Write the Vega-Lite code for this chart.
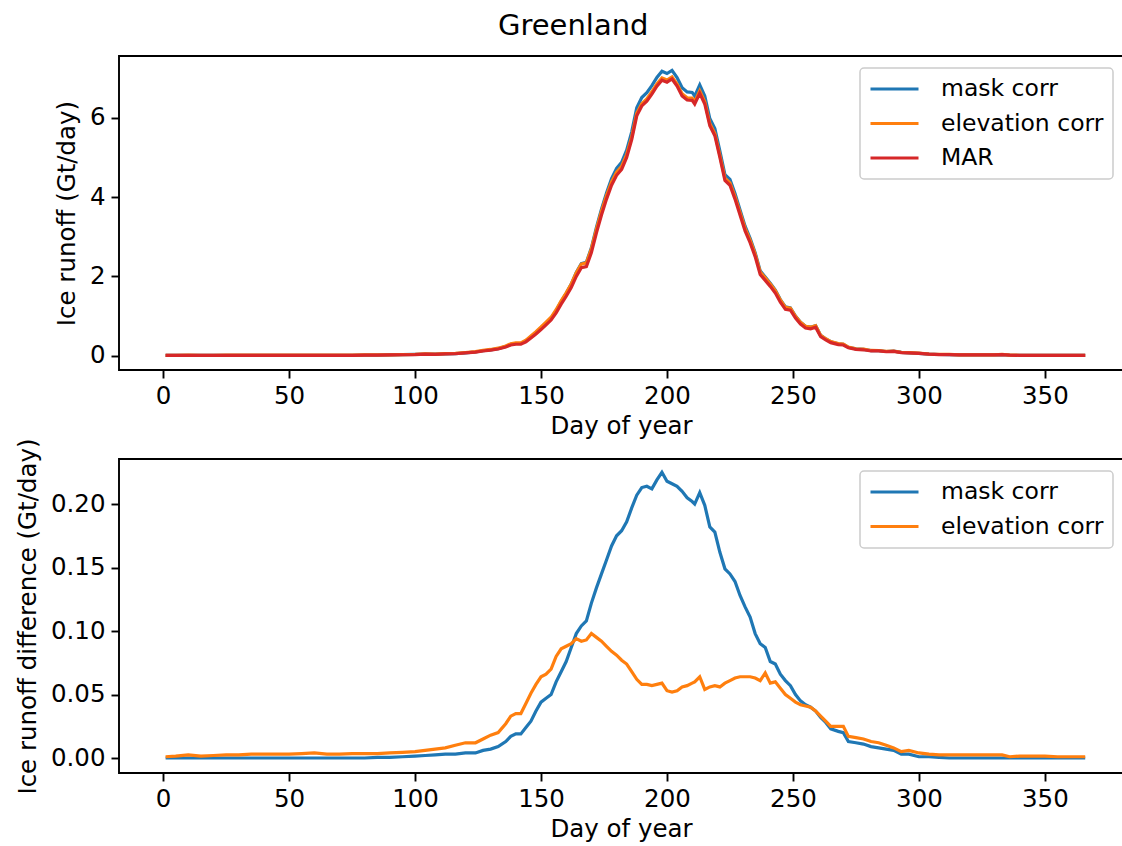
{
  "$schema": "https://vega.github.io/schema/vega-lite/v6.json",
  "padding": {"left": 14, "top": 12, "right": 0, "bottom": 0},
  "title": {"text": "Greenland", "fontSize": 29, "font": "DejaVu Sans", "fontWeight": "normal", "color": "#000", "anchor": "middle", "offset": 14, "dx": 4},
  "data": {"values": [
    {"d":1,"mar":0.01,"mask":0.01,"elev":0.011,"dm":0,"de":0.001},
    {"d":5,"mar":0.01,"mask":0.01,"elev":0.012,"dm":0,"de":0.0015},
    {"d":10,"mar":0.01,"mask":0.01,"elev":0.013,"dm":0,"de":0.0025},
    {"d":15,"mar":0.01,"mask":0.01,"elev":0.012,"dm":0,"de":0.0015},
    {"d":20,"mar":0.01,"mask":0.01,"elev":0.012,"dm":0,"de":0.002},
    {"d":25,"mar":0.01,"mask":0.01,"elev":0.013,"dm":0,"de":0.0025},
    {"d":30,"mar":0.01,"mask":0.01,"elev":0.013,"dm":0,"de":0.0025},
    {"d":35,"mar":0.01,"mask":0.01,"elev":0.013,"dm":0,"de":0.003},
    {"d":40,"mar":0.01,"mask":0.01,"elev":0.013,"dm":0,"de":0.003},
    {"d":45,"mar":0.01,"mask":0.01,"elev":0.013,"dm":0,"de":0.003},
    {"d":50,"mar":0.01,"mask":0.01,"elev":0.013,"dm":0,"de":0.003},
    {"d":55,"mar":0.01,"mask":0.01,"elev":0.014,"dm":0,"de":0.0035},
    {"d":60,"mar":0.01,"mask":0.01,"elev":0.014,"dm":0,"de":0.004},
    {"d":65,"mar":0.01,"mask":0.01,"elev":0.013,"dm":0,"de":0.003},
    {"d":70,"mar":0.01,"mask":0.01,"elev":0.013,"dm":0,"de":0.003},
    {"d":75,"mar":0.01,"mask":0.01,"elev":0.014,"dm":0,"de":0.0035},
    {"d":80,"mar":0.015,"mask":0.015,"elev":0.019,"dm":0,"de":0.0035},
    {"d":85,"mar":0.015,"mask":0.016,"elev":0.019,"dm":0.0005,"de":0.0035},
    {"d":90,"mar":0.02,"mask":0.021,"elev":0.024,"dm":0.0005,"de":0.004},
    {"d":95,"mar":0.025,"mask":0.026,"elev":0.03,"dm":0.001,"de":0.0045},
    {"d":100,"mar":0.03,"mask":0.032,"elev":0.035,"dm":0.0015,"de":0.005},
    {"d":104,"mar":0.04,"mask":0.042,"elev":0.046,"dm":0.002,"de":0.006},
    {"d":108,"mar":0.035,"mask":0.038,"elev":0.042,"dm":0.0025,"de":0.007},
    {"d":112,"mar":0.045,"mask":0.048,"elev":0.053,"dm":0.003,"de":0.008},
    {"d":116,"mar":0.05,"mask":0.053,"elev":0.06,"dm":0.003,"de":0.01},
    {"d":120,"mar":0.07,"mask":0.074,"elev":0.082,"dm":0.004,"de":0.012},
    {"d":124,"mar":0.09,"mask":0.094,"elev":0.102,"dm":0.004,"de":0.012},
    {"d":127,"mar":0.12,"mask":0.126,"elev":0.135,"dm":0.006,"de":0.015},
    {"d":130,"mar":0.14,"mask":0.147,"elev":0.158,"dm":0.007,"de":0.018},
    {"d":133,"mar":0.17,"mask":0.179,"elev":0.19,"dm":0.009,"de":0.02},
    {"d":136,"mar":0.22,"mask":0.233,"elev":0.247,"dm":0.013,"de":0.027},
    {"d":138,"mar":0.27,"mask":0.287,"elev":0.303,"dm":0.017,"de":0.033},
    {"d":140,"mar":0.29,"mask":0.309,"elev":0.325,"dm":0.019,"de":0.035},
    {"d":142,"mar":0.29,"mask":0.309,"elev":0.325,"dm":0.019,"de":0.035},
    {"d":144,"mar":0.35,"mask":0.374,"elev":0.393,"dm":0.024,"de":0.043},
    {"d":146,"mar":0.45,"mask":0.479,"elev":0.501,"dm":0.029,"de":0.051},
    {"d":148,"mar":0.55,"mask":0.587,"elev":0.608,"dm":0.037,"de":0.058},
    {"d":150,"mar":0.66,"mask":0.704,"elev":0.724,"dm":0.044,"de":0.064},
    {"d":152,"mar":0.78,"mask":0.827,"elev":0.846,"dm":0.047,"de":0.066},
    {"d":154,"mar":0.9,"mask":0.95,"elev":0.97,"dm":0.05,"de":0.07},
    {"d":156,"mar":1.08,"mask":1.14,"elev":1.16,"dm":0.06,"de":0.08},
    {"d":158,"mar":1.3,"mask":1.368,"elev":1.386,"dm":0.068,"de":0.086},
    {"d":160,"mar":1.5,"mask":1.576,"elev":1.588,"dm":0.076,"de":0.088},
    {"d":162,"mar":1.72,"mask":1.807,"elev":1.81,"dm":0.087,"de":0.09},
    {"d":164,"mar":2.0,"mask":2.098,"elev":2.094,"dm":0.098,"de":0.094},
    {"d":166,"mar":2.22,"mask":2.324,"elev":2.312,"dm":0.104,"de":0.092},
    {"d":168,"mar":2.25,"mask":2.358,"elev":2.343,"dm":0.108,"de":0.093},
    {"d":170,"mar":2.6,"mask":2.722,"elev":2.698,"dm":0.122,"de":0.098},
    {"d":172,"mar":3.1,"mask":3.234,"elev":3.195,"dm":0.134,"de":0.095},
    {"d":174,"mar":3.55,"mask":3.695,"elev":3.642,"dm":0.145,"de":0.092},
    {"d":176,"mar":3.95,"mask":4.106,"elev":4.038,"dm":0.156,"de":0.088},
    {"d":178,"mar":4.3,"mask":4.467,"elev":4.384,"dm":0.167,"de":0.084},
    {"d":180,"mar":4.55,"mask":4.725,"elev":4.631,"dm":0.175,"de":0.081},
    {"d":182,"mar":4.7,"mask":4.879,"elev":4.777,"dm":0.179,"de":0.077},
    {"d":184,"mar":5.0,"mask":5.186,"elev":5.074,"dm":0.186,"de":0.074},
    {"d":186,"mar":5.45,"mask":5.647,"elev":5.518,"dm":0.197,"de":0.068},
    {"d":188,"mar":6.05,"mask":6.257,"elev":6.112,"dm":0.207,"de":0.062},
    {"d":190,"mar":6.3,"mask":6.513,"elev":6.358,"dm":0.213,"de":0.058},
    {"d":192,"mar":6.42,"mask":6.634,"elev":6.478,"dm":0.214,"de":0.058},
    {"d":194,"mar":6.6,"mask":6.812,"elev":6.657,"dm":0.212,"de":0.057},
    {"d":196,"mar":6.8,"mask":7.019,"elev":6.858,"dm":0.219,"de":0.058},
    {"d":198,"mar":6.95,"mask":7.175,"elev":7.009,"dm":0.225,"de":0.059},
    {"d":200,"mar":6.9,"mask":7.118,"elev":6.953,"dm":0.218,"de":0.053},
    {"d":202,"mar":6.98,"mask":7.196,"elev":7.032,"dm":0.216,"de":0.052},
    {"d":204,"mar":6.8,"mask":7.014,"elev":6.853,"dm":0.214,"de":0.053},
    {"d":206,"mar":6.55,"mask":6.76,"elev":6.606,"dm":0.21,"de":0.056},
    {"d":208,"mar":6.45,"mask":6.655,"elev":6.507,"dm":0.205,"de":0.057},
    {"d":210,"mar":6.44,"mask":6.642,"elev":6.499,"dm":0.202,"de":0.059},
    {"d":211,"mar":6.35,"mask":6.55,"elev":6.41,"dm":0.2,"de":0.06},
    {"d":213,"mar":6.62,"mask":6.829,"elev":6.684,"dm":0.209,"de":0.064},
    {"d":215,"mar":6.35,"mask":6.549,"elev":6.404,"dm":0.199,"de":0.054},
    {"d":217,"mar":5.8,"mask":5.982,"elev":5.856,"dm":0.182,"de":0.056},
    {"d":219,"mar":5.55,"mask":5.728,"elev":5.607,"dm":0.178,"de":0.057},
    {"d":221,"mar":5.0,"mask":5.162,"elev":5.056,"dm":0.162,"de":0.056},
    {"d":223,"mar":4.42,"mask":4.569,"elev":4.479,"dm":0.149,"de":0.059},
    {"d":225,"mar":4.3,"mask":4.445,"elev":4.361,"dm":0.145,"de":0.061},
    {"d":227,"mar":3.95,"mask":4.089,"elev":4.013,"dm":0.139,"de":0.063},
    {"d":229,"mar":3.55,"mask":3.678,"elev":3.614,"dm":0.128,"de":0.064},
    {"d":231,"mar":3.15,"mask":3.269,"elev":3.214,"dm":0.119,"de":0.064},
    {"d":233,"mar":2.85,"mask":2.961,"elev":2.914,"dm":0.111,"de":0.064},
    {"d":235,"mar":2.5,"mask":2.598,"elev":2.563,"dm":0.098,"de":0.063},
    {"d":237,"mar":2.05,"mask":2.14,"elev":2.111,"dm":0.09,"de":0.061},
    {"d":239,"mar":1.9,"mask":1.987,"elev":1.967,"dm":0.087,"de":0.067},
    {"d":241,"mar":1.75,"mask":1.826,"elev":1.809,"dm":0.076,"de":0.059},
    {"d":243,"mar":1.58,"mask":1.654,"elev":1.64,"dm":0.074,"de":0.06},
    {"d":245,"mar":1.35,"mask":1.416,"elev":1.405,"dm":0.066,"de":0.055},
    {"d":247,"mar":1.17,"mask":1.231,"elev":1.22,"dm":0.061,"de":0.05},
    {"d":249,"mar":1.15,"mask":1.207,"elev":1.197,"dm":0.057,"de":0.047},
    {"d":251,"mar":0.95,"mask":1.0,"elev":0.994,"dm":0.05,"de":0.044},
    {"d":253,"mar":0.8,"mask":0.845,"elev":0.842,"dm":0.045,"de":0.042},
    {"d":255,"mar":0.7,"mask":0.742,"elev":0.741,"dm":0.042,"de":0.041},
    {"d":257,"mar":0.68,"mask":0.72,"elev":0.72,"dm":0.04,"de":0.04},
    {"d":259,"mar":0.72,"mask":0.757,"elev":0.757,"dm":0.037,"de":0.037},
    {"d":261,"mar":0.48,"mask":0.512,"elev":0.513,"dm":0.032,"de":0.033},
    {"d":263,"mar":0.4,"mask":0.428,"elev":0.429,"dm":0.028,"de":0.029},
    {"d":265,"mar":0.33,"mask":0.353,"elev":0.355,"dm":0.023,"de":0.025},
    {"d":268,"mar":0.28,"mask":0.301,"elev":0.305,"dm":0.021,"de":0.025},
    {"d":270,"mar":0.27,"mask":0.29,"elev":0.295,"dm":0.02,"de":0.025},
    {"d":272,"mar":0.2,"mask":0.213,"elev":0.217,"dm":0.013,"de":0.017},
    {"d":275,"mar":0.16,"mask":0.172,"elev":0.176,"dm":0.012,"de":0.016},
    {"d":278,"mar":0.15,"mask":0.161,"elev":0.165,"dm":0.011,"de":0.015},
    {"d":281,"mar":0.12,"mask":0.129,"elev":0.133,"dm":0.009,"de":0.013},
    {"d":284,"mar":0.12,"mask":0.128,"elev":0.132,"dm":0.008,"de":0.012},
    {"d":287,"mar":0.1,"mask":0.107,"elev":0.11,"dm":0.007,"de":0.01},
    {"d":290,"mar":0.11,"mask":0.116,"elev":0.118,"dm":0.006,"de":0.008},
    {"d":293,"mar":0.08,"mask":0.083,"elev":0.085,"dm":0.003,"de":0.005},
    {"d":296,"mar":0.07,"mask":0.073,"elev":0.076,"dm":0.003,"de":0.006},
    {"d":300,"mar":0.06,"mask":0.061,"elev":0.064,"dm":0.001,"de":0.004},
    {"d":304,"mar":0.04,"mask":0.041,"elev":0.043,"dm":0.001,"de":0.003},
    {"d":308,"mar":0.03,"mask":0.031,"elev":0.033,"dm":0.0005,"de":0.0025},
    {"d":312,"mar":0.03,"mask":0.03,"elev":0.033,"dm":0,"de":0.0025},
    {"d":316,"mar":0.02,"mask":0.02,"elev":0.023,"dm":0,"de":0.0025},
    {"d":320,"mar":0.02,"mask":0.02,"elev":0.023,"dm":0,"de":0.0025},
    {"d":325,"mar":0.02,"mask":0.02,"elev":0.023,"dm":0,"de":0.0025},
    {"d":330,"mar":0.02,"mask":0.02,"elev":0.023,"dm":0,"de":0.0025},
    {"d":333,"mar":0.03,"mask":0.03,"elev":0.033,"dm":0,"de":0.0025},
    {"d":336,"mar":0.015,"mask":0.015,"elev":0.016,"dm":0,"de":0.001},
    {"d":340,"mar":0.01,"mask":0.01,"elev":0.012,"dm":0,"de":0.0015},
    {"d":345,"mar":0.01,"mask":0.01,"elev":0.012,"dm":0,"de":0.0015},
    {"d":350,"mar":0.01,"mask":0.01,"elev":0.012,"dm":0,"de":0.0015},
    {"d":355,"mar":0.01,"mask":0.01,"elev":0.011,"dm":0,"de":0.001},
    {"d":360,"mar":0.01,"mask":0.01,"elev":0.011,"dm":0,"de":0.001},
    {"d":366,"mar":0.01,"mask":0.01,"elev":0.011,"dm":0,"de":0.001}
  ]},
  "config": {
    "font": "DejaVu Sans",
    "view": {"stroke": "#000", "strokeWidth": 1.9},
    "axis": {"labelFont": "DejaVu Sans", "titleFont": "DejaVu Sans", "labelFontSize": 24.5, "titleFontSize": 24.5, "titleFontWeight": "normal", "labelColor": "#000", "titleColor": "#000", "tickColor": "#000", "tickWidth": 1.9, "tickSize": 8, "labelPadding": 6, "domain": false, "grid": false},
    "axisX": {"titlePadding": 7},
    "axisY": {"titlePadding": 10},
    "legend": {"orient": "none", "legendX": 741, "legendY": 12, "title": null, "symbolType": "stroke", "symbolSize": 2304, "symbolStrokeWidth": 3, "clipHeight": 24, "labelFont": "DejaVu Sans", "labelFontSize": 23.5, "labelLimit": 400, "labelColor": "#000", "labelOffset": 21, "rowPadding": 10.5, "padding": 9, "strokeColor": "#cccccc", "strokeWidth": 1.5, "fillColor": "rgba(255,255,255,0.8)", "cornerRadius": 4}
  },
  "bounds": "flush",
  "spacing": 89,
  "resolve": {"scale": {"color": "independent", "y": "independent"}, "legend": {"color": "independent"}},
  "vconcat": [
    {
      "width": 1004, "height": 314,
      "transform": [{"fold": ["mask", "elev", "mar"], "as": ["s", "v"]}],
      "mark": {"type": "line", "strokeWidth": 3.2},
      "encoding": {
        "x": {"field": "d", "type": "quantitative", "scale": {"domain": [-17.5, 381], "nice": false, "zero": false}, "axis": {"values": [0, 50, 100, 150, 200, 250, 300, 350], "title": "Day of year"}},
        "y": {"field": "v", "type": "quantitative", "scale": {"domain": [-0.36, 7.56], "nice": false, "zero": false}, "axis": {"values": [0, 2, 4, 6], "title": "Ice runoff (Gt/day)"}},
        "color": {"field": "s", "type": "nominal", "scale": {"domain": ["mask", "elev", "mar"], "range": ["#1f77b4", "#ff7f0e", "#d62728"]}, "legend": {"labelExpr": "datum.value == 'mask' ? 'mask corr' : datum.value == 'elev' ? 'elevation corr' : 'MAR'"}}
      }
    },
    {
      "width": 1004, "height": 314,
      "transform": [{"fold": ["dm", "de"], "as": ["s", "v"]}],
      "mark": {"type": "line", "strokeWidth": 3.2},
      "encoding": {
        "x": {"field": "d", "type": "quantitative", "scale": {"domain": [-17.5, 381], "nice": false, "zero": false}, "axis": {"values": [0, 50, 100, 150, 200, 250, 300, 350], "title": "Day of year"}},
        "y": {"field": "v", "type": "quantitative", "scale": {"domain": [-0.0118, 0.2355], "nice": false, "zero": false}, "axis": {"values": [0, 0.05, 0.1, 0.15, 0.2], "format": ".2f", "title": "Ice runoff difference (Gt/day)"}},
        "color": {"field": "s", "type": "nominal", "scale": {"domain": ["dm", "de"], "range": ["#1f77b4", "#ff7f0e"]}, "legend": {"labelExpr": "datum.value == 'dm' ? 'mask corr' : 'elevation corr'"}}
      }
    }
  ]
}
